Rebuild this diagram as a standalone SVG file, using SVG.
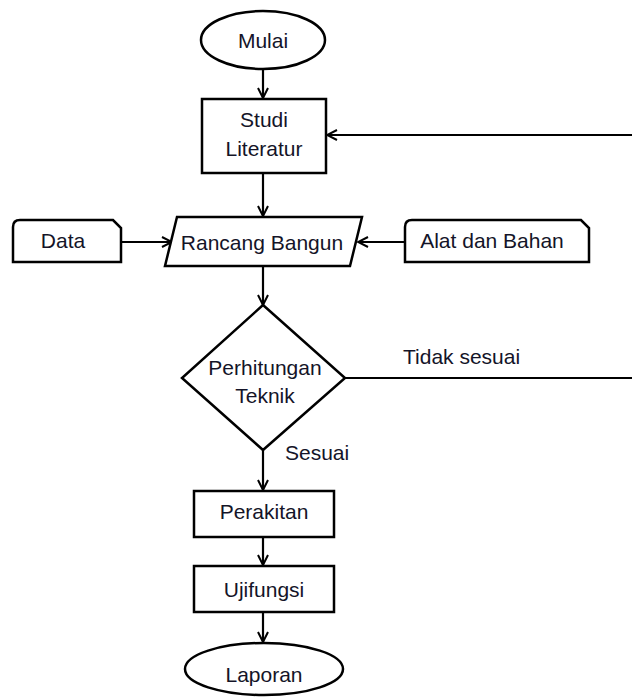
<svg xmlns="http://www.w3.org/2000/svg" width="632" height="697" viewBox="0 0 632 697">
<style>
.shape{fill:#fff;stroke:#000;stroke-width:2.5}
.line{fill:none;stroke:#000;stroke-width:2.2}
text{font-family:"Liberation Sans",Arial,sans-serif;font-size:21px;fill:#141428}
.c{text-anchor:middle}
</style>
<defs>
<marker id="arr" viewBox="0 0 12 12" refX="11" refY="6" markerWidth="12" markerHeight="12" markerUnits="userSpaceOnUse" orient="auto">
<path d="M1,1 L11,6 L1,11" fill="none" stroke="#000" stroke-width="2"/>
</marker>
</defs>
<rect width="632" height="697" fill="#fff"/>
<g id="connectors">
<line class="line" x1="263" y1="70" x2="263" y2="98" marker-end="url(#arr)"/>
<line class="line" x1="632" y1="135" x2="327" y2="135" marker-end="url(#arr)"/>
<line class="line" x1="263" y1="173" x2="263" y2="216" marker-end="url(#arr)"/>
<line class="line" x1="121" y1="242" x2="172" y2="242" marker-end="url(#arr)"/>
<line class="line" x1="405" y1="242" x2="358" y2="242" marker-end="url(#arr)"/>
<line class="line" x1="263" y1="266" x2="263" y2="305" marker-end="url(#arr)"/>
<line class="line" x1="345" y1="378" x2="632" y2="378"/>
<line class="line" x1="263" y1="450" x2="263" y2="490" marker-end="url(#arr)"/>
<line class="line" x1="263" y1="537" x2="263" y2="565" marker-end="url(#arr)"/>
<line class="line" x1="263" y1="612" x2="263" y2="642" marker-end="url(#arr)"/>
<text x="403" y="364">Tidak sesuai</text>
<text x="285" y="460">Sesuai</text>
</g>
<g id="mulai">
<ellipse class="shape" cx="263" cy="40" rx="62" ry="29"/>
<text class="c" x="263" y="48">Mulai</text>
</g>
<g id="studi-literatur">
<rect class="shape" x="202" y="99" width="124" height="74"/>
<text class="c" x="264" y="127">Studi</text>
<text class="c" x="264" y="156">Literatur</text>
</g>
<g id="data">
<path class="shape" d="M13,262 V227 Q13,220 20,220 H113 L121,228 V262 Z"/>
<text class="c" x="63" y="248">Data</text>
</g>
<g id="rancang-bangun">
<polygon class="shape" points="177,217 362,217 350,266 165,266"/>
<text class="c" x="262" y="250">Rancang Bangun</text>
</g>
<g id="alat-bahan">
<path class="shape" d="M405,262 V227 Q405,220 412,220 H581 L589,228 V262 Z"/>
<text class="c" x="492" y="248">Alat dan Bahan</text>
</g>
<g id="perhitungan-teknik">
<polygon class="shape" points="263,305 345,378 263,450 182,378"/>
<text class="c" x="265" y="375">Perhitungan</text>
<text class="c" x="265" y="403">Teknik</text>
</g>
<g id="perakitan">
<rect class="shape" x="194" y="491" width="140" height="46"/>
<text class="c" x="264" y="519">Perakitan</text>
</g>
<g id="ujifungsi">
<rect class="shape" x="194" y="566" width="140" height="46"/>
<text class="c" x="264" y="597">Ujifungsi</text>
</g>
<g id="laporan">
<ellipse class="shape" cx="264" cy="669" rx="79" ry="26"/>
<text class="c" x="264" y="682">Laporan</text>
</g>
</svg>
